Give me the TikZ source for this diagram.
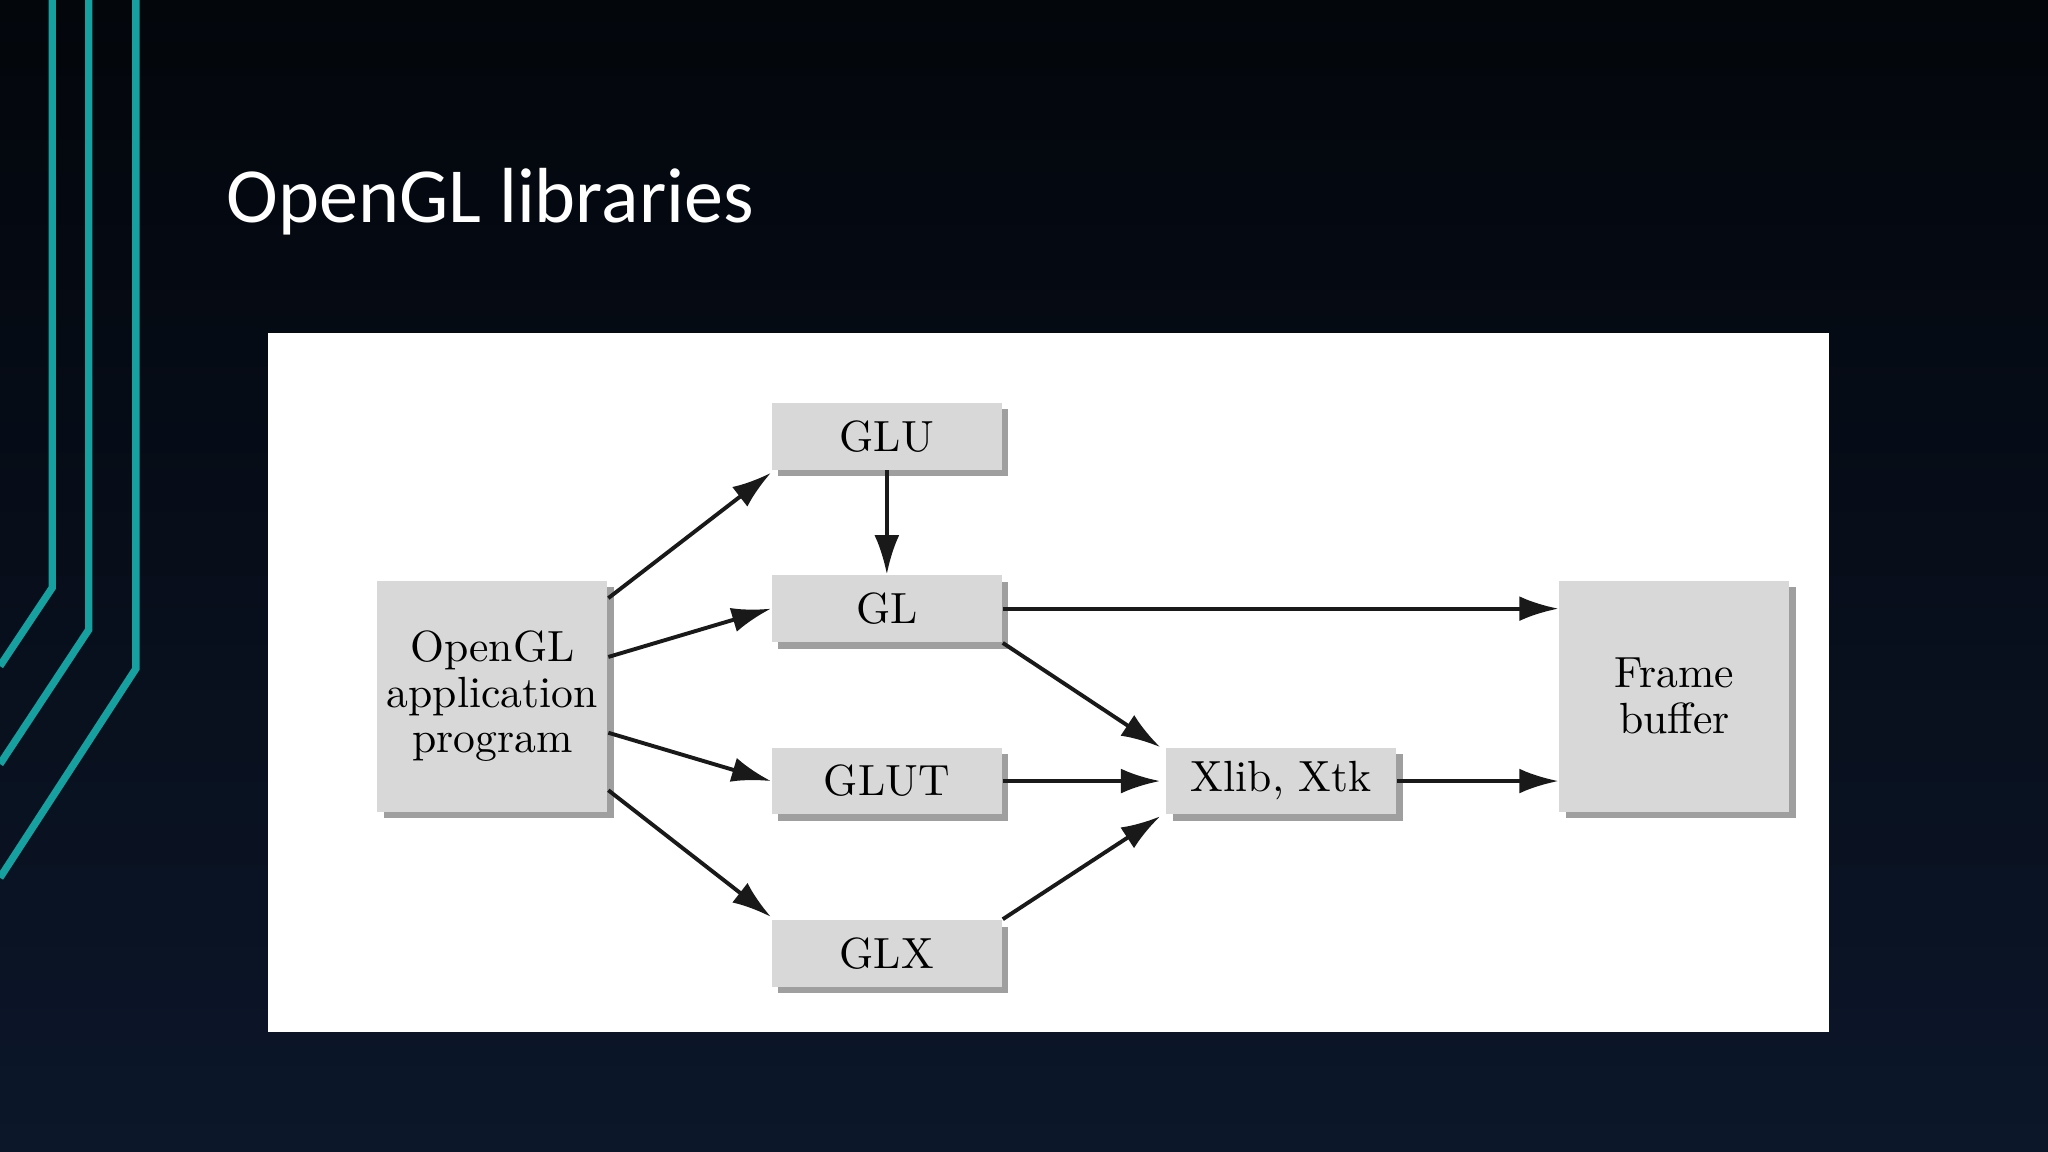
\documentclass[tikz,border=0pt]{standalone}
\usepackage{fontspec}
\newfontfamily\titlefont{Carlito}
\usetikzlibrary{arrows.meta,shadows}
\definecolor{bgA}{HTML}{03060B}
\definecolor{bgB}{HTML}{0E1A30}
\definecolor{teal}{HTML}{16A0A0}
\definecolor{boxg}{HTML}{D8D8D8}
\begin{document}
\begin{tikzpicture}[x=0.01cm,y=-0.01cm,
  box/.style={fill=boxg,draw=none,minimum width=1.76cm,minimum height=0.51cm,inner sep=0pt,
    font=\fontsize{9.5pt}{11pt}\selectfont,text=black,
    general shadow={shadow xshift=0.05cm,shadow yshift=-0.05cm,fill=gray!75}},
  arr/.style={-{Latex[length=0.3cm,width=0.19cm]},line width=0.85pt,black!90},
  tl/.style={teal,line width=1.6pt}]
\useasboundingbox (0,0) rectangle (1568,882);
\shade[left color=bgA,right color=bgB!70!bgA,shading angle=0] (0,0) rectangle (1568,882);
\shade[top color=bgA,bottom color=bgB,opacity=0.5] (0,0) rectangle (1568,882);
\draw[tl] (40,0) -- (40,450) -- (0,510);
\draw[tl] (68,0) -- (68,482) -- (0,585);
\draw[tl] (104,0) -- (104,512) -- (0,672);
\node[anchor=base west,text=white,font=\titlefont\fontsize{17pt}{20pt}\selectfont,inner sep=0pt] (title) at (173,170) {OpenGL libraries};
\fill[white] (205,255) rectangle (1400,790);
\node[box] (glu) at (679,334) {GLU};
\node[box] (gl) at (679,466) {GL};
\node[box] (glut) at (679,598) {GLUT};
\node[box] (glx) at (679,730) {GLX};
\node[box,minimum height=1.77cm,align=center] (app) at (377,533) {OpenGL\\[-1pt]application\\[-1pt]program};
\node[box] (xlib) at (981,598) {Xlib, Xtk};
\node[box,minimum height=1.77cm,align=center] (fb) at (1282,533) {Frame\\[-1pt]buffer};
\draw[arr] ([yshift=0.75cm]app.east) -- ([yshift=-0.28cm]glu.west);
\draw[arr] ([yshift=0.3cm]app.east) -- (gl.west);
\draw[arr] ([yshift=-0.28cm]app.east) -- (glut.west);
\draw[arr] ([yshift=-0.72cm]app.east) -- ([yshift=0.28cm]glx.west);
\draw[arr] (glu.south) -- (gl.north);
\draw[arr] (gl.east) -- (gl.east -| fb.west);
\draw[arr] (gl.south east) -- ([xshift=-0.04cm,yshift=0.26cm]xlib.west);
\draw[arr] (glut.east) -- ([xshift=-0.04cm]xlib.west);
\draw[arr] (glx.north east) -- ([xshift=-0.04cm,yshift=-0.27cm]xlib.west);
\draw[arr] (xlib.east) -- (xlib.east -| fb.west);
\end{tikzpicture}
\end{document}
